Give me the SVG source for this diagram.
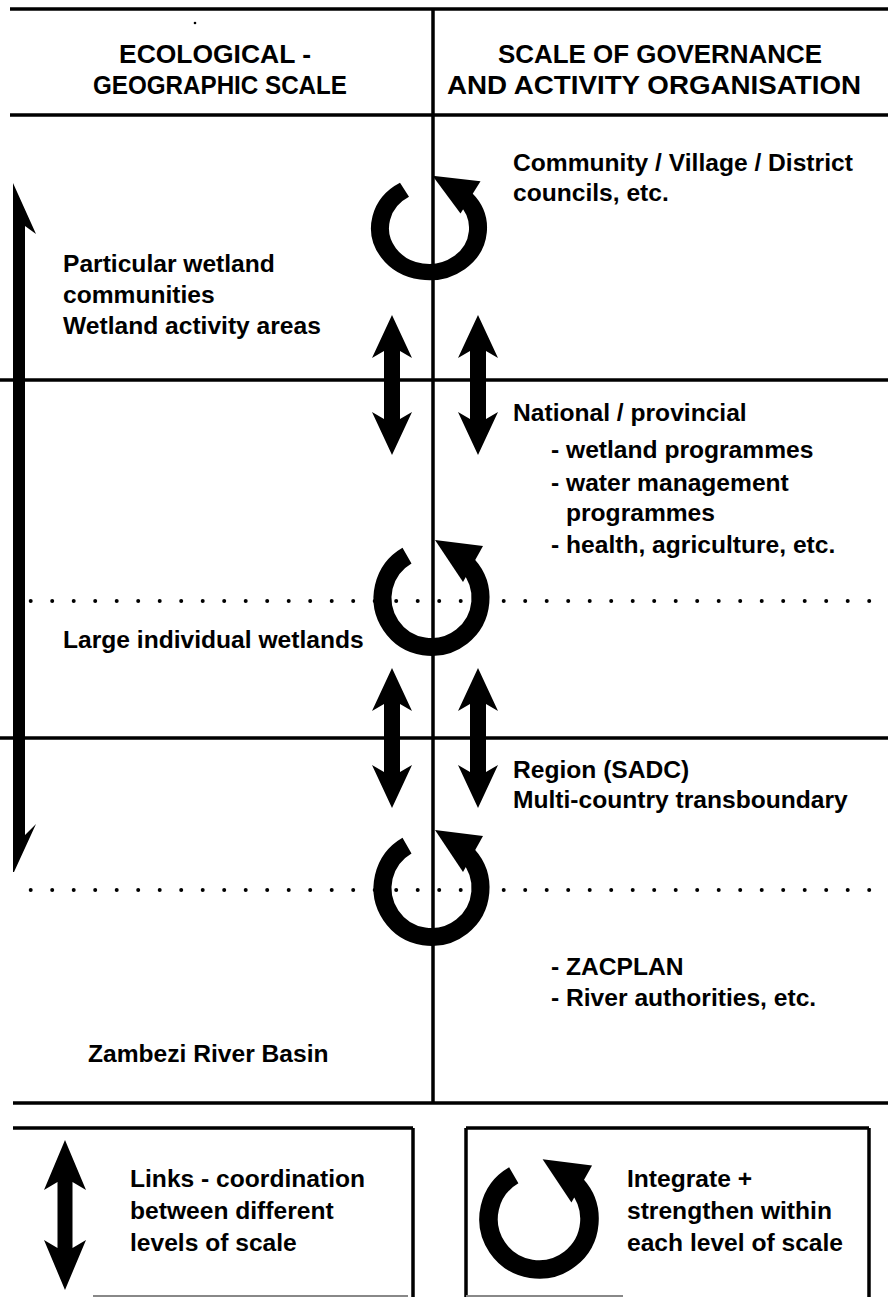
<svg xmlns="http://www.w3.org/2000/svg" xmlns:xlink="http://www.w3.org/1999/xlink" width="888" height="1298" viewBox="0 0 888 1298">
<style>
.t{font-family:"Liberation Sans",Arial,Helvetica,sans-serif;font-weight:bold;font-size:24.6px;fill:#000}
.h{font-size:26px}
.ln{stroke:#000;stroke-width:3.5;fill:none}
.faint{stroke:#888;stroke-width:2;fill:none}
.dots{stroke:#000;stroke-width:4;stroke-linecap:round;stroke-dasharray:0 21.5;fill:none}
.ring{stroke:#000;stroke-width:18;fill:none}
</style>
<defs>
<path id="dbl" d="M0,0 L20,43 L8,36 L8,104 L20,97 L0,140 L-20,97 L-8,104 L-8,36 L-20,43 Z" fill="#000"/>
<g id="cyc">
<path class="ring" d="M-24.5,-42.4 A49,49 0 1 0 36.4,-32.8"/>
<polygon points="3.5,-58 51.5,-52 31.5,-16" fill="#000"/>
</g>
</defs>
<rect width="888" height="1298" fill="#fff"/>
<g id="frame">
<line class="ln" x1="10" y1="9" x2="888" y2="9"/>
<line class="ln" x1="10" y1="115" x2="888" y2="115"/>
<line class="ln" x1="0" y1="380" x2="888" y2="380"/>
<line class="ln" x1="0" y1="738" x2="888" y2="738"/>
<line class="ln" x1="13" y1="1103" x2="888" y2="1103"/>
<line class="ln" x1="433" y1="9" x2="433" y2="1103"/>
<line class="dots" x1="30.7" y1="601" x2="888" y2="601"/>
<line class="dots" x1="30.7" y1="890" x2="888" y2="890"/>
<circle cx="195" cy="23" r="1.3" fill="#000"/>
</g>
<g id="header-left">
<text class="t h" x="119" y="63" textLength="192" lengthAdjust="spacingAndGlyphs">ECOLOGICAL -</text>
<text class="t h" x="93" y="94" textLength="254" lengthAdjust="spacingAndGlyphs">GEOGRAPHIC SCALE</text>
</g>
<g id="header-right">
<text class="t h" x="498" y="63" textLength="324" lengthAdjust="spacingAndGlyphs">SCALE OF GOVERNANCE</text>
<text class="t h" x="447" y="94" textLength="414" lengthAdjust="spacingAndGlyphs">AND ACTIVITY ORGANISATION</text>
</g>
<g id="community">
<text class="t" x="513" y="171">Community / Village / District</text>
<text class="t" x="513" y="201">councils, etc.</text>
</g>
<g id="national">
<text class="t" x="513" y="421">National / provincial</text>
<text class="t" x="551" y="458">- wetland programmes</text>
<text class="t" x="551" y="491">- water management</text>
<text class="t" x="566" y="521">programmes</text>
<text class="t" x="551" y="553">- health, agriculture, etc.</text>
</g>
<g id="region">
<text class="t" x="513" y="778">Region (SADC)</text>
<text class="t" x="513" y="808">Multi-country transboundary</text>
</g>
<g id="zacplan">
<text class="t" x="551" y="975">- ZACPLAN</text>
<text class="t" x="551" y="1006">- River authorities, etc.</text>
</g>
<g id="wetland-communities">
<text class="t" x="63" y="272">Particular wetland</text>
<text class="t" x="63" y="303">communities</text>
<text class="t" x="63" y="334">Wetland activity areas</text>
</g>
<g id="large-wetlands">
<text class="t" x="63" y="648">Large individual wetlands</text>
</g>
<g id="zambezi">
<text class="t" x="88" y="1062">Zambezi River Basin</text>
</g>
<g id="cycles">
<use xlink:href="#cyc" transform="translate(429,228) scale(1,0.9)"/>
<use xlink:href="#cyc" transform="translate(431.5,598)"/>
<use xlink:href="#cyc" transform="translate(431.5,888)"/>
</g>
<g id="connectors">
<path d="M13,183 L36,234 L25,226 L25,835 L36,824 L14,872 L13,872 Z" fill="#000"/>
<use xlink:href="#dbl" x="392" y="315"/>
<use xlink:href="#dbl" x="478" y="315"/>
<use xlink:href="#dbl" x="392" y="668"/>
<use xlink:href="#dbl" x="478" y="668"/>
</g>
<g id="legend-links">
<line class="ln" x1="13" y1="1128" x2="413" y2="1128"/>
<line class="ln" x1="413" y1="1128" x2="413" y2="1297"/>
<line class="faint" x1="93" y1="1296" x2="408" y2="1296"/>
<path d="M65,1140 L86,1190 L72.5,1182 L72.5,1248 L86,1240 L65,1290 L44,1240 L57.5,1248 L57.5,1182 L44,1190 Z" fill="#000"/>
<text class="t" x="130" y="1187">Links - coordination</text>
<text class="t" x="130" y="1219">between different</text>
<text class="t" x="130" y="1251">levels of scale</text>
</g>
<g id="legend-integrate">
<line class="ln" x1="466" y1="1128" x2="869" y2="1128"/>
<line class="ln" x1="466" y1="1128" x2="466" y2="1297"/>
<line class="ln" x1="869" y1="1128" x2="869" y2="1297"/>
<line class="faint" x1="466" y1="1296" x2="623" y2="1296"/>
<use xlink:href="#cyc" transform="translate(539,1219) scale(1.03)"/>
<text class="t" x="627" y="1187">Integrate +</text>
<text class="t" x="627" y="1219">strengthen within</text>
<text class="t" x="627" y="1251">each level of scale</text>
</g>
</svg>
